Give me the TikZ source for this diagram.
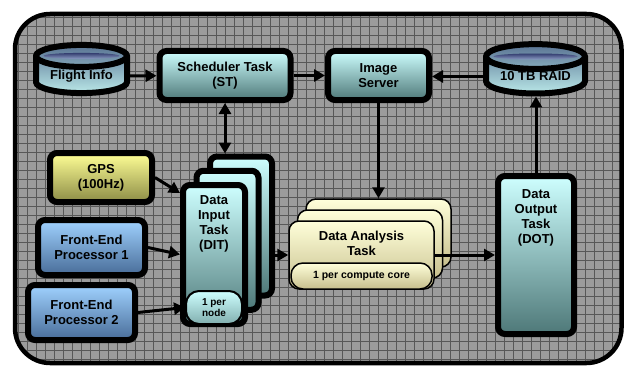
\documentclass[tikz,border=0pt]{standalone}
\usepackage{fontspec}
\setmainfont{Liberation Sans}
\usetikzlibrary{arrows.meta,positioning,calc,shapes.geometric}
\definecolor{cyanhi}{RGB}{206,255,255}
\definecolor{cyanlo}{RGB}{78,120,120}
\definecolor{gpshi}{RGB}{255,255,150}
\definecolor{gpslo}{RGB}{140,140,70}
\definecolor{fephi}{RGB}{160,210,255}
\definecolor{feplo}{RGB}{72,108,152}
\definecolor{creamhi}{RGB}{255,255,218}
\definecolor{creamlo}{RGB}{198,190,140}
\definecolor{dbhi}{RGB}{88,114,146}
\definecolor{dblo}{RGB}{186,232,232}
\definecolor{dbtophi}{RGB}{52,62,112}
\definecolor{dbtoplo}{RGB}{140,156,196}
\definecolor{panel}{RGB}{156,156,156}
\definecolor{panelgrid}{RGB}{88,88,88}

\begin{document}
\begin{tikzpicture}[x=1pt,y=-1pt,
    task/.style={draw,line width=6pt,rounded corners=7pt,align=center,inner sep=0pt,
      font=\fontsize{13}{15}\selectfont\bfseries,top color=cyanhi,bottom color=cyanlo},
    db/.style={cylinder,shape border rotate=90,aspect=0.35,draw,line width=6pt,inner sep=0pt,
      font=\fontsize{13}{15}\selectfont\bfseries,top color=dbhi,bottom color=dblo},
    dbtop/.style={top color=dbtophi,bottom color=dbtoplo},
    stack/.style={draw,line width=1.5pt,rounded corners=10pt,top color=creamhi,bottom color=creamlo,
      minimum width=145pt,minimum height=68pt},
    lbl/.style={align=center,font=\fontsize{13}{15}\selectfont\bfseries},
    arr/.style={line width=3pt,-{Triangle[length=11pt,width=12pt]}}
]
\useasboundingbox (0,0) rectangle (632,369);

% panel with grid
\fill[panel,rounded corners=35pt] (15,14) rectangle (621.5,363);
\begin{scope}
  \clip[rounded corners=35pt] (15,14) rectangle (621.5,363);
  \foreach \x in {18,27,...,621} \draw[panelgrid,line width=0.6pt] (\x,14) -- (\x,363);
  \foreach \y in {17,26,...,362} \draw[panelgrid,line width=0.6pt] (15,\y) -- (622,\y);
\end{scope}
\draw[line width=4.5pt,rounded corners=35pt] (15,14) rectangle (621.5,363);

% top row
\node[db,minimum width=91pt,minimum height=41pt] (fi) at (81.5,76) {Flight Info};
\shade[dbtop] ($(fi.before top)!0.5!(fi.after top)$) ellipse (38pt and 3pt);
\node[task,minimum width=131pt,minimum height=49pt] (st) at (225,75.5) {Scheduler Task\\(ST)};
\node[task,minimum width=101pt,minimum height=49pt] (is) at (378.5,75.5) {Image\\Server};
\node[db,minimum width=99pt,minimum height=43pt] (raid) at (535.5,76.5) {10 TB RAID};
\shade[dbtop] ($(raid.before top)!0.5!(raid.after top)$) ellipse (42pt and 3pt);

% inputs
\node[task,top color=gpshi,bottom color=gpslo,minimum width=102pt,minimum height=49pt] (gps) at (101,177.5) {GPS\\(100Hz)};
\node[task,top color=fephi,bottom color=feplo,minimum width=107pt,minimum height=55pt] (fep1) at (91.5,247.5) {Front-End\\Processor 1};
\node[task,top color=fephi,bottom color=feplo,minimum width=107pt,minimum height=55pt] (fep2) at (81.5,312.5) {Front-End\\Processor 2};

% data input tasks
\node[task,minimum width=62pt,minimum height=139pt] (dit3) at (241,226) {};
\node[task,minimum width=62pt,minimum height=139pt] (dit2) at (227.5,240.25) {};
\node[task,minimum width=62pt,minimum height=139pt] (dit) at (214,254.5) {};
\node[lbl] (ditt) at (214,224) {Data\\Input\\Task\\(DIT)};
\node[draw,line width=2pt,rounded corners=13pt,top color=cyanhi,bottom color=cyanlo!60!cyanhi,
  minimum width=56pt,minimum height=33pt,inner sep=0pt,align=center,
  font=\fontsize{10}{11.5}\selectfont\bfseries] (pn) at (214,307.5) {1 per\\node};

% data analysis tasks
\node[stack] (da3) at (378.5,233) {};
\node[stack] (da2) at (370,244) {};
\node[stack] (da) at (361.5,255) {};
\node[lbl] (dat) at (361.5,243) {Data Analysis\\Task};
\node[stack,minimum width=141pt,minimum height=26pt,rounded corners=12pt,inner sep=0pt,
  font=\fontsize{10.5}{12}\selectfont\bfseries] (pc) at (361.5,276) {1 per compute core};

% data output task
\node[task,minimum width=76pt,minimum height=158pt] (dot) at (536,255) {};
\node[lbl] (dott) at (536,218) {Data\\Output\\Task\\(DOT)};

\draw[arr] (fi) -- (st);
\draw[arr] (st) -- (is);
\draw[arr] (raid.west) -- (raid.west -| is.east);
\draw[line width=3pt,{Triangle[length=11pt,width=12pt]}-{Triangle[length=11pt,width=12pt]}] (st.south) -- (st.south |- dit3.north);
\draw[arr] (is.south) -- (is.south |- da3.north);
\draw[arr] (dot.north) -- (dot.north |- raid.south);
\draw[arr] (gps.east) -- ([yshift=-11pt]dit.north west);
\draw[arr] (fep1.east) -- (dit.west);
\draw[arr] (fep2.east) -- (pn.west);
\draw[arr] (dit3.east |- da.west) -- (da.west);
\draw[arr] (da.east) -- (da.east -| dot.west);
\end{tikzpicture}
\end{document}
